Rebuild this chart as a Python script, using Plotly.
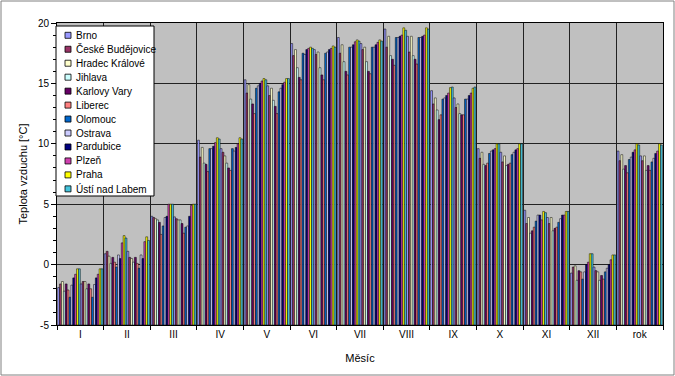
import plotly.graph_objects as go
import numpy as np

mesice = ["I", "II", "III", "IV", "V", "VI", "VII", "VIII", "IX", "X", "XI", "XII", "rok"]
stanice = ["Brno", "České Budějovice", "Hradec Králové", "Jihlava", "Karlovy Vary",
           "Liberec", "Olomouc", "Ostrava", "Pardubice", "Plzeň", "Praha", "Ústí nad Labem"]
barvy = ["#9999FF", "#993366", "#FFFFCC", "#CCFFFF", "#660066", "#FF8080",
         "#0066CC", "#CCCCFF", "#000080", "#D040B0", "#FFFF00", "#44C4DC"]
y_ticks = [-5, 0, 5, 10, 15, 20]

# first block of bars in each month (one value per station, station order as above)
obdobi_1 = [
    [-1.9, -1.6, -1.4, -2.2, -1.6, -2.1, -2.7, -1.7, -1.1, -0.8, -0.35, -0.35],
    [0.9, 1.1, 0.7, 0.1, 0.6, 0.2, -0.2, 0.8, 0.5, 1.8, 2.4, 2.2],
    [4.0, 3.9, 3.8, 3.7, 3.5, 2.5, 3.2, 3.9, 4.0, 5.0, 5.0, 5.0],
    [10.3, 8.9, 9.7, 8.4, 8.3, 7.7, 9.6, 9.6, 9.8, 10.1, 10.5, 10.4],
    [15.3, 14.2, 14.9, 13.7, 13.3, 12.5, 14.6, 14.8, 15.0, 15.2, 15.4, 15.3],
    [18.3, 17.3, 17.8, 16.3, 15.5, 15.3, 17.5, 17.4, 17.8, 17.9, 18.0, 17.9],
    [18.8, 17.5, 18.2, 16.8, 16.0, 15.7, 18.0, 18.0, 18.2, 18.45, 18.6, 18.5],
    [19.5, 18.0, 18.9, 17.3, 17.0, 16.5, 18.8, 18.8, 18.9, 19.0, 19.6, 19.4],
    [14.4, 13.3, 13.8, 12.8, 12.0, 12.4, 13.7, 13.8, 14.0, 14.2, 14.65, 14.7],
    [9.6, 8.8, 9.3, 8.3, 8.2, 8.4, 9.2, 9.4, 9.5, 9.6, 10.0, 10.0],
    [4.5, 3.4, 3.9, 2.6, 2.8, 3.1, 3.6, 4.1, 4.1, 3.7, 4.4, 4.3],
    [-0.7, -0.2, -0.1, -1.3, -0.5, -0.6, -1.2, -0.6, 0.0, 0.2, 0.9, 0.9],
    [9.4, 8.6, 9.1, 7.9, 8.2, 7.6, 8.7, 8.9, 9.3, 9.5, 10.0, 9.9],
]
# second block of bars in each month
obdobi_2 = [
    [-1.6, -1.4, -1.4, -2.0, -1.6, -2.0, -2.7, -1.65, -1.1, -0.8, -0.35, -0.35],
    [1.1, 0.6, 0.5, 0.2, 0.6, 0.1, -0.3, 0.8, 0.5, 1.9, 2.3, 2.0],
    [3.95, 3.8, 3.7, 3.7, 3.4, 2.6, 3.1, 3.2, 4.0, 4.9, 5.0, 5.0],
    [9.6, 9.3, 9.0, 8.4, 8.0, 7.8, 9.6, 9.4, 9.7, 10.0, 10.5, 10.4],
    [14.8, 14.0, 14.6, 13.6, 13.1, 12.5, 14.3, 14.6, 14.9, 15.1, 15.4, 15.4],
    [17.8, 17.4, 17.6, 16.3, 15.7, 15.3, 17.5, 17.6, 17.8, 17.9, 18.1, 18.0],
    [18.3, 17.8, 18.0, 16.8, 16.0, 15.8, 18.0, 18.0, 18.2, 18.4, 18.6, 18.5],
    [18.9, 17.6, 18.9, 17.3, 17.0, 16.6, 18.8, 18.8, 18.9, 19.0, 19.6, 19.5],
    [13.8, 13.0, 13.3, 12.5, 12.4, 12.4, 13.7, 13.7, 14.0, 14.2, 14.6, 14.7],
    [9.3, 8.5, 9.0, 8.2, 8.3, 8.4, 9.1, 9.3, 9.5, 9.6, 10.0, 10.0],
    [3.9, 3.4, 3.9, 2.8, 3.0, 3.1, 3.5, 3.8, 4.1, 4.1, 4.4, 4.4],
    [-0.2, -0.5, -0.6, -1.3, -0.9, -1.2, -0.6, -0.3, 0.0, 0.4, 0.8, 0.8],
    [9.0, 8.6, 9.0, 7.8, 8.2, 7.8, 8.5, 8.8, 9.2, 9.4, 10.0, 9.9],
]

Y_MIN, Y_MAX = -5, 20
W, H = 675, 376
L, R, T, B = 57, 12, 23, 51

fig = go.Figure()
for blok, data in enumerate([obdobi_1, obdobi_2]):
    arr = np.array(data).T  # station x month
    for i, (name, col) in enumerate(zip(stanice, barvy)):
        fig.add_bar(
            x=mesice, y=arr[i] - Y_MIN, base=Y_MIN, name=name,
            offsetgroup=str(blok * 12 + i), showlegend=False,
            marker=dict(color=col, line=dict(color="#000000", width=0.5)),
            customdata=arr[i], hovertemplate="%{x}: %{customdata} °C<extra>" + name + "</extra>",
        )

pw, ph = W - L - R, H - T - B
def px(xp):
    return (xp - L) / pw
def py(yp):
    return (H - B - yp) / ph

shapes = []
annotations = []
# outer chart border
shapes.append(dict(type="rect", xref="paper", yref="paper", x0=px(1), x1=px(674), y0=py(375), y1=py(1),
                   line=dict(color="#808080", width=1), fillcolor="rgba(0,0,0,0)", layer="below"))
# legend box
shapes.append(dict(type="rect", xref="paper", yref="paper", x0=px(56), x1=px(154), y0=py(196), y1=py(26),
                   line=dict(color="#000000", width=1), fillcolor="#FFFFFF", layer="above"))
for i, (name, col) in enumerate(zip(stanice, barvy)):
    yc = 35.3 + i * 13.96
    shapes.append(dict(type="rect", xref="paper", yref="paper", x0=px(65), x1=px(71),
                       y0=py(yc + 3), y1=py(yc - 3), line=dict(color="#000000", width=0.8),
                       fillcolor=col, layer="above"))
    annotations.append(dict(text=name, xref="paper", yref="paper", x=px(73.5), y=py(yc),
                            xanchor="left", yanchor="middle", showarrow=False,
                            font=dict(size=10, color="#000000", family="Liberation Sans, Arial, sans-serif")))

fig.update_layout(
    width=W, height=H, margin=dict(l=L, r=R, t=T, b=B, autoexpand=False),
    paper_bgcolor="#FFFFFF", plot_bgcolor="#C0C0C0",
    barmode="group", bargap=0.03, bargroupgap=0,
    font=dict(family="Liberation Sans, Arial, sans-serif", size=10, color="#000000"),
    shapes=shapes, annotations=annotations, showlegend=False,
)
fig.update_xaxes(
    type="category", tickson="boundaries", ticks="outside", ticklen=4, tickcolor="#000000",
    showgrid=True, gridcolor="#222222", gridwidth=1,
    showline=True, linecolor="#000000", linewidth=1, mirror=True,
    tickfont=dict(size=10), automargin=False,
    title=dict(text="Měsíc", font=dict(size=11), standoff=15),
)
fig.update_yaxes(
    range=[Y_MIN, Y_MAX], tickmode="array", tickvals=y_ticks, ticktext=[str(v) for v in y_ticks],
    ticks="outside", ticklen=5, tickcolor="#000000",
    minor=dict(dtick=1, tick0=0, ticks="outside", ticklen=3, tickcolor="#000000", showgrid=False),
    showgrid=True, gridcolor="#222222", gridwidth=1, zeroline=False,
    showline=True, linecolor="#000000", linewidth=1, mirror=True,
    tickfont=dict(size=10), automargin=False,
    title=dict(text="Teplota vzduchu [°C]", font=dict(size=11), standoff=8),
)

fig.write_html("out.html")
